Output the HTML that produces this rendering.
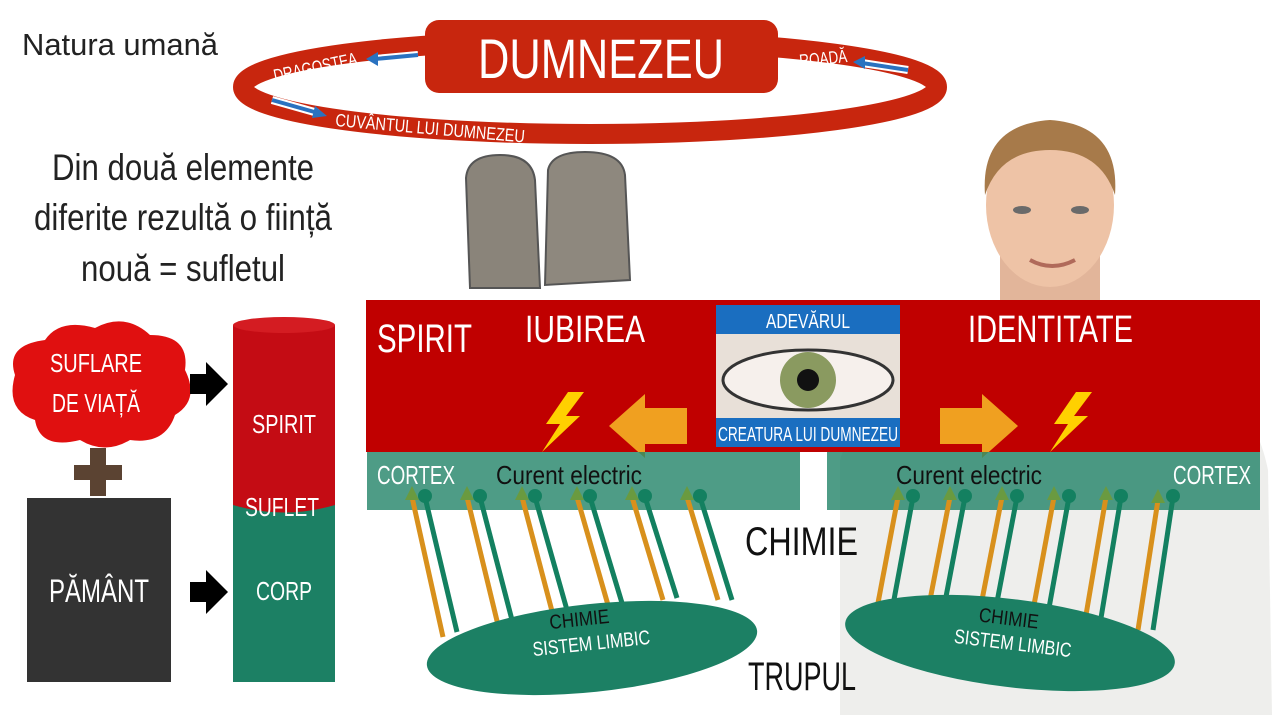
<!DOCTYPE html>
<html><head><meta charset="utf-8"><style>
body{margin:0;background:#fff}
svg{display:block}
text{font-family:"Liberation Sans",sans-serif}
</style></head><body>
<svg width="1280" height="720" viewBox="0 0 1280 720" xmlns="http://www.w3.org/2000/svg">
<!-- person -->
<path d="M840,460 Q850,420 960,330 L1150,330 Q1250,380 1268,470 L1272,715 L840,715 Z" fill="#eeeeec"/>
<path d="M1000,250 L1000,330 L1100,330 L1100,250 Z" fill="#e2b59a"/>
<path d="M985,300 L1050,335 L1115,300 L1120,320 L1050,345 L980,320Z" fill="#fafafa"/>
<ellipse cx="1050" cy="205" rx="64" ry="82" fill="#eec3a6"/>
<path d="M985,195 Q980,125 1050,120 Q1120,125 1115,195 Q1100,150 1050,150 Q1000,150 985,195 Z" fill="#a77a4a"/>
<ellipse cx="1022" cy="210" rx="9" ry="4" fill="#6a6a6a"/><ellipse cx="1080" cy="210" rx="9" ry="4" fill="#6a6a6a"/>
<path d="M1030,260 Q1052,272 1075,260" stroke="#b06a5a" stroke-width="4" fill="none"/>
<!-- texts left -->
<text x="22" y="55" font-size="31" fill="#222" textLength="196" lengthAdjust="spacingAndGlyphs">Natura umană</text>
<g font-size="37" fill="#222" text-anchor="middle">
<text x="183" y="180" textLength="262" lengthAdjust="spacingAndGlyphs">Din două elemente</text>
<text x="183" y="230" textLength="298" lengthAdjust="spacingAndGlyphs">diferite rezultă o ființă</text>
<text x="183" y="281" textLength="204" lengthAdjust="spacingAndGlyphs">nouă = sufletul</text>
</g>
<!-- ring -->
<ellipse cx="590" cy="87" rx="347" ry="47" fill="none" stroke="#c8260e" stroke-width="20"/>
<rect x="425" y="20" width="353" height="73" rx="14" fill="#c8260e"/>
<text x="601" y="78" font-size="56" fill="#fff" text-anchor="middle" textLength="246" lengthAdjust="spacingAndGlyphs">DUMNEZEU</text>
<g font-size="18" fill="#fff">
<text x="275" y="82" transform="rotate(-12 275 82)" textLength="85" lengthAdjust="spacingAndGlyphs">DRAGOSTEA</text>
<text x="800" y="67" transform="rotate(-6 800 67)" textLength="48" lengthAdjust="spacingAndGlyphs">ROADĂ</text>
<text x="335" y="126" transform="rotate(5 335 126)" textLength="190" lengthAdjust="spacingAndGlyphs">CUVÂNTUL LUI DUMNEZEU</text>
</g>
<g stroke="#fff" stroke-width="8" fill="none"><line x1="418" y1="55" x2="375" y2="59"/><line x1="908" y1="70" x2="862" y2="63"/><line x1="272" y1="100" x2="318" y2="113"/></g>
<g stroke="#2a72c0" stroke-width="4" fill="none"><line x1="418" y1="55" x2="375" y2="59"/><line x1="908" y1="70" x2="862" y2="63"/><line x1="272" y1="100" x2="318" y2="113"/></g>
<path d="M366,59 l12,-7 v14z M853,62 l12,-6 v13z M327,116 l-12,-10 l-3,12z" fill="#2a72c0"/>
<!-- tablets -->
<path d="M466,178 Q468,155 500,155 Q532,155 535,180 L540,288 L470,288 Z" fill="#8a847a" stroke="#555" stroke-width="2"/>
<path d="M548,170 Q552,152 585,152 Q622,152 625,175 L630,280 L545,285 Z" fill="#8e887e" stroke="#555" stroke-width="2"/>
<!-- left block -->
<path d="M15,375 Q5,345 45,340 Q60,318 95,328 Q125,312 150,335 Q190,335 185,370 Q200,400 175,415 Q165,445 130,440 Q105,455 80,440 Q40,450 35,420 Q5,410 15,375Z" fill="#e01010"/>
<text x="96" y="372" font-size="26" fill="#fff" text-anchor="middle" textLength="92" lengthAdjust="spacingAndGlyphs">SUFLARE</text>
<text x="96" y="412" font-size="26" fill="#fff" text-anchor="middle" textLength="88" lengthAdjust="spacingAndGlyphs">DE VIAȚĂ</text>
<rect x="90" y="448" width="16" height="48" fill="#5b4332"/><rect x="74" y="465" width="48" height="15" fill="#5b4332"/>
<rect x="27" y="498" width="144" height="184" fill="#333"/>
<text x="99" y="602" font-size="32" fill="#fff" text-anchor="middle" textLength="100" lengthAdjust="spacingAndGlyphs">PĂMÂNT</text>
<path d="M190,374 h16 v-12 l22,22 l-22,22 v-12 h-16z M190,582 h16 v-12 l22,22 l-22,22 v-12 h-16z" fill="#000"/>
<rect x="233" y="325" width="102" height="180" fill="#c40c14"/>
<ellipse cx="284" cy="325" rx="51" ry="8" fill="#d41c22"/>
<path d="M233,505 Q284,495 335,505 V682 H233Z" fill="#1c8064"/>
<path d="M233,505 Q284,520 335,505 V495 H233Z" fill="#c40c14"/>
<text x="284" y="433" font-size="26" fill="#fff" text-anchor="middle" textLength="64" lengthAdjust="spacingAndGlyphs">SPIRIT</text>
<text x="282" y="516" font-size="26" fill="#fff" text-anchor="middle" textLength="74" lengthAdjust="spacingAndGlyphs">SUFLET</text>
<text x="284" y="600" font-size="26" fill="#fff" text-anchor="middle" textLength="56" lengthAdjust="spacingAndGlyphs">CORP</text>
<!-- spirit band -->
<rect x="366" y="300" width="894" height="152" fill="#c00000"/>
<text x="377" y="352" font-size="40" fill="#fff" textLength="95" lengthAdjust="spacingAndGlyphs">SPIRIT</text>
<text x="525" y="342" font-size="38" fill="#fff" textLength="120" lengthAdjust="spacingAndGlyphs">IUBIREA</text>
<text x="968" y="342" font-size="38" fill="#fff" textLength="165" lengthAdjust="spacingAndGlyphs">IDENTITATE</text>
<rect x="716" y="305" width="184" height="142" fill="#e8e0d8"/>
<ellipse cx="808" cy="380" rx="85" ry="30" fill="#f6f0ec" stroke="#333" stroke-width="3"/>
<circle cx="808" cy="380" r="28" fill="#8a9a60"/><circle cx="808" cy="380" r="11" fill="#111"/>
<rect x="716" y="305" width="184" height="29" fill="#1a6ec0"/>
<rect x="716" y="418" width="184" height="29" fill="#1a6ec0"/>
<text x="808" y="328" font-size="20" fill="#fff" text-anchor="middle" textLength="84" lengthAdjust="spacingAndGlyphs">ADEVĂRUL</text>
<text x="808" y="441" font-size="20" fill="#fff" text-anchor="middle" textLength="180" lengthAdjust="spacingAndGlyphs">CREATURA LUI DUMNEZEU</text>
<path d="M687,408 h-42 v-14 l-36,32 l36,32 v-14 h42z" fill="#f0a020"/>
<path d="M940,408 h42 v-14 l36,32 l-36,32 v-14 h-42z" fill="#f0a020"/>
<path d="M568,392 l-22,32 h14 l-18,28 l38,-36 h-14 l18,-24z" fill="#ffd000"/>
<path d="M1076,392 l-22,32 h14 l-18,28 l38,-36 h-14 l18,-24z" fill="#ffd000"/>
<!-- cortex -->
<rect x="367" y="452" width="433" height="58" fill="#1c8064" opacity="0.78"/>
<rect x="827" y="452" width="433" height="58" fill="#1c8064" opacity="0.78"/>
<text x="377" y="484" font-size="26" fill="#fff" textLength="78" lengthAdjust="spacingAndGlyphs">CORTEX</text>
<text x="496" y="484" font-size="26" fill="#111" textLength="146" lengthAdjust="spacingAndGlyphs">Curent electric</text>
<text x="896" y="484" font-size="26" fill="#111" textLength="146" lengthAdjust="spacingAndGlyphs">Curent electric</text>
<text x="1173" y="484" font-size="26" fill="#fff" textLength="78" lengthAdjust="spacingAndGlyphs">CORTEX</text>
<!-- connectors -->
<g stroke-width="5">
<g stroke="#d8901c"><line x1="443" y1="637" x2="412" y2="497"/><line x1="498" y1="625" x2="467" y2="497"/><line x1="553" y1="615" x2="522" y2="497"/><line x1="608" y1="605" x2="577" y2="497"/><line x1="663" y1="600" x2="632" y2="497"/><line x1="718" y1="600" x2="687" y2="497"/></g>
<g stroke="#138060"><line x1="457" y1="632" x2="425" y2="497"/><line x1="512" y1="620" x2="480" y2="497"/><line x1="567" y1="610" x2="535" y2="497"/><line x1="622" y1="603" x2="590" y2="497"/><line x1="677" y1="598" x2="645" y2="497"/><line x1="732" y1="600" x2="700" y2="497"/></g>
<g stroke="#d8901c"><line x1="878" y1="603" x2="898" y2="497"/><line x1="930" y1="600" x2="950" y2="497"/><line x1="982" y1="600" x2="1002" y2="497"/><line x1="1034" y1="605" x2="1054" y2="497"/><line x1="1086" y1="615" x2="1106" y2="497"/><line x1="1138" y1="630" x2="1158" y2="500"/></g>
<g stroke="#138060"><line x1="893" y1="605" x2="913" y2="497"/><line x1="945" y1="602" x2="965" y2="497"/><line x1="997" y1="602" x2="1017" y2="497"/><line x1="1049" y1="608" x2="1069" y2="497"/><line x1="1101" y1="618" x2="1121" y2="497"/><line x1="1153" y1="630" x2="1173" y2="497"/></g>
</g>
<g fill="#6a9a40">
<path d="M405,500 l7,-14 l7,14z M460,500 l7,-14 l7,14z M515,500 l7,-14 l7,14z M570,500 l7,-14 l7,14z M625,500 l7,-14 l7,14z M680,500 l7,-14 l7,14z"/>
<path d="M891,500 l7,-14 l7,14z M943,500 l7,-14 l7,14z M995,500 l7,-14 l7,14z M1047,500 l7,-14 l7,14z M1099,500 l7,-14 l7,14z M1151,503 l7,-14 l7,14z"/>
</g>
<g fill="#138060">
<circle cx="425" cy="496" r="7"/><circle cx="480" cy="496" r="7"/><circle cx="535" cy="496" r="7"/><circle cx="590" cy="496" r="7"/><circle cx="645" cy="496" r="7"/><circle cx="700" cy="496" r="7"/>
<circle cx="913" cy="496" r="7"/><circle cx="965" cy="496" r="7"/><circle cx="1017" cy="496" r="7"/><circle cx="1069" cy="496" r="7"/><circle cx="1121" cy="496" r="7"/><circle cx="1173" cy="496" r="7"/>
</g>
<ellipse cx="592" cy="648" rx="166" ry="44" transform="rotate(-6 592 648)" fill="#1c8064"/>
<ellipse cx="1010" cy="643" rx="166" ry="44" transform="rotate(7 1010 643)" fill="#1c8064"/>
<text x="580" y="626" font-size="20" fill="#111" text-anchor="middle" transform="rotate(-6 580 626)" textLength="60" lengthAdjust="spacingAndGlyphs">CHIMIE</text>
<text x="592" y="650" font-size="20" fill="#fff" text-anchor="middle" transform="rotate(-6 592 650)" textLength="118" lengthAdjust="spacingAndGlyphs">SISTEM LIMBIC</text>
<text x="1008" y="625" font-size="20" fill="#111" text-anchor="middle" transform="rotate(7 1008 625)" textLength="60" lengthAdjust="spacingAndGlyphs">CHIMIE</text>
<text x="1012" y="650" font-size="20" fill="#fff" text-anchor="middle" transform="rotate(7 1012 650)" textLength="118" lengthAdjust="spacingAndGlyphs">SISTEM LIMBIC</text>
<text x="745" y="555" font-size="40" fill="#111" textLength="113" lengthAdjust="spacingAndGlyphs">CHIMIE</text>
<text x="748" y="690" font-size="40" fill="#111" textLength="108" lengthAdjust="spacingAndGlyphs">TRUPUL</text>
</svg>
</body></html>
